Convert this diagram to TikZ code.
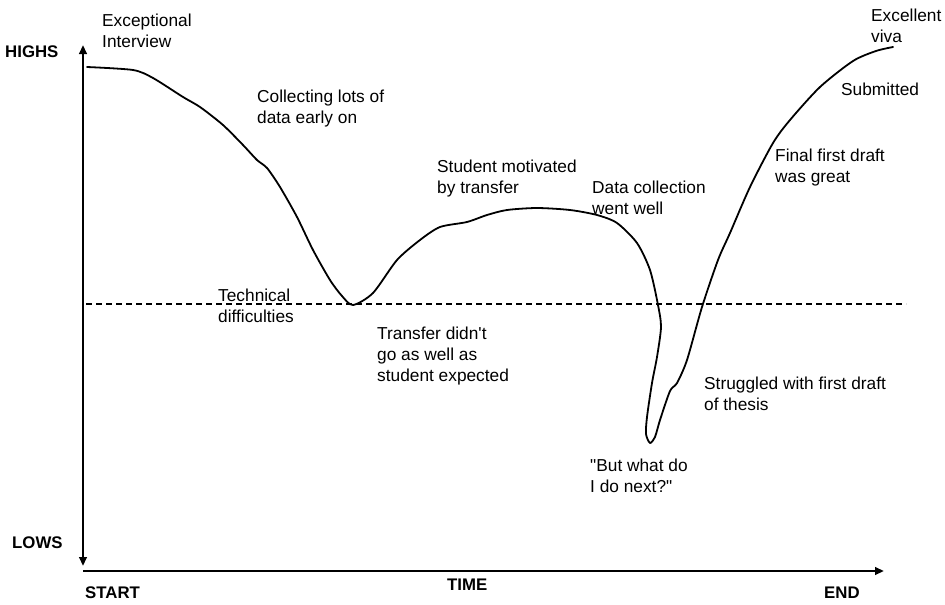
\documentclass[tikz,border=0pt]{standalone}
\usepackage{fontspec}
\setmainfont{Liberation Sans}[Ligatures=TeXOff]
\usetikzlibrary{arrows.meta}
\tikzset{
  lbl/.style={anchor=base west, inner sep=0pt, align=left, font=\fontsize{17.3}{21}\selectfont},
  axlbl/.style={anchor=base west, inner sep=0pt, font=\fontsize{16.8}{18}\selectfont\bfseries},
  axis/.style={line width=2.6pt},
  tip/.style={-{Triangle[length=9pt,width=7.5pt]}},
  curve/.style={line width=1.8pt, line join=round, line cap=round},
  midline/.style={line width=1.2pt, dash pattern=on 6pt off 4pt}
}
\begin{document}
\begin{tikzpicture}[x=1pt,y=-1pt]
\useasboundingbox (0,0) rectangle (945,605);
% axes
\coordinate (vtop) at (83,45);
\coordinate (vbot) at (83,566);
\coordinate (hleft) at (83,571);
\coordinate (hright) at (884,571);
\coordinate (dl) at (86,304);
\coordinate (dr) at (906,304);
\draw[axis, {Triangle[length=9pt,width=7.5pt]}-{Triangle[length=9pt,width=7.5pt]}] (vtop) -- (vbot);
\draw[axis, tip] (hleft) -- (hright);
\draw[midline] (dl) -- (dr);
% curve
\draw[curve] plot[smooth, tension=0.45] coordinates {
(87,67) (133,70) (153,78) (183,97) (200,107) (223,125) (243,145) (257,160) (267,168)
(280,187) (297,217) (313,250) (330,280) (342,296) (353,305) (373,293) (397,260)
(420,240) (440,227) (467,222) (487,215) (507,210) (537,208) (570,210) (597,215)
(617,223) (637,243) (650,270) (658,305) (661,327) (657,357) (652,383) (647,417)
(646,434) (650,443) (655,437) (660,420) (670,391) (677,383) (687,360) (702,307)
(718,260) (730,233) (750,187) (773,143) (790,120) (820,87) (853,61) (876,51) (893,47)};
% axis labels
\node[axlbl] (highs) at (5,57) {HIGHS};
\node[axlbl] (lows) at (12,548) {LOWS};
\node[axlbl] (start) at (85,598) {START};
\node[axlbl] (time) at (447,590) {TIME};
\node[axlbl] (end) at (824,598) {END};
% annotations (coordinates are the baseline of the last line)
\node[lbl] (t1) at (102,47) {Exceptional\\Interview};
\node[lbl] (t2) at (257,123) {Collecting lots of\\data early on};
\node[lbl] (t3) at (218,322) {Technical\\difficulties};
\node[lbl] (t4) at (437,193) {Student motivated\\by transfer};
\node[lbl] (t5) at (377,381) {Transfer didn't\\go as well as\\student expected};
\node[lbl] (t6) at (592,214) {Data collection\\went well};
\node[lbl] (t7) at (590,492) {"But what do\\I do next?"};
\node[lbl] (t8) at (704,410) {Struggled with first draft\\of thesis};
\node[lbl] (t9) at (775,182) {Final first draft\\was great};
\node[lbl] (t10) at (841,95) {Submitted};
\node[lbl] (t11) at (871,42) {Excellent\\viva};
\end{tikzpicture}
\end{document}
